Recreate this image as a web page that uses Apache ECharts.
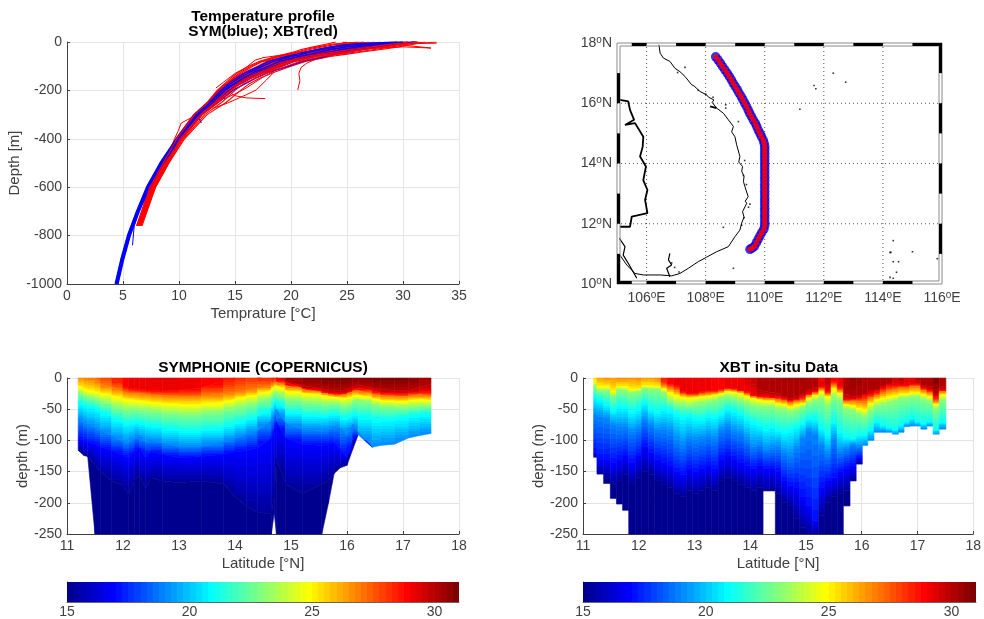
<!DOCTYPE html>
<html><head><meta charset="utf-8">
<style>html,body{margin:0;padding:0;background:#fff}#c{width:984px;height:619px}</style>
<script src="https://cdn.jsdelivr.net/npm/echarts@6/dist/echarts.min.js"></script>
</head><body><div id="c"></div>
<script>
// ---------- Temperature profile panel ----------
const xbtDepths=[0,5,10,20,30,40,50,60,80,100,125,150,175,200,250,300,400,500,600,760];
const xbt01=[24.0,23.5,23.0,22.0,21.0,20.3,19.5,18.6,17.2,16.2,15.3,14.6,14.0,13.4,12.5,11.3,9.7,8.5,7.4,6.2];
const xbt02=[26.0,25.0,24.0,22.8,21.8,20.8,20.0,19.0,17.5,16.6,15.7,14.9,14.2,13.6,12.6,11.4,9.8,8.6,7.4,6.3];
const xbt03=[27.0,26.0,25.0,23.5,22.5,21.3,20.4,19.3,17.8,17.0,15.9,15.0,14.3,13.7,12.6,11.5,9.8,8.6,7.5,6.3];
const xbt04=[28.0,27.2,26.0,24.2,23.0,21.7,20.8,19.7,18.2,17.3,16.1,15.2,14.4,13.8,12.7,11.5,9.9,8.7,7.5,6.3];
const xbt05=[28.5,27.8,26.6,24.8,23.5,22.2,21.1,20.0,18.5,17.6,16.4,15.4,14.6,13.9,12.8,11.6,9.9,8.7,7.5,6.4];
const xbt06=[29.0,28.4,27.2,25.4,24.0,22.6,21.5,20.3,18.8,17.9,16.6,15.6,14.7,14.0,12.9,11.6,10.0,8.8,7.6,6.4];
const xbt07=[29.5,28.9,27.8,26.0,24.5,23.0,21.8,20.6,19.0,18.1,16.8,15.7,14.9,14.1,13.0,11.7,10.0,8.8,7.6,6.4];
const xbt08=[30.0,29.3,28.2,26.5,25.0,23.5,22.2,21.0,19.3,18.3,17.0,15.9,15.0,14.2,13.1,11.8,10.1,8.9,7.7,6.5];
const xbt09=[30.5,29.8,28.8,27.2,25.6,24.0,22.6,21.3,19.6,18.6,17.2,16.0,15.1,14.3,13.2,11.9,10.1,8.9,7.7,6.5];
const xbt10=[31.0,30.3,29.3,27.8,26.2,24.6,23.1,21.7,19.9,18.9,17.4,16.2,15.2,14.5,13.3,12.0,10.2,9.0,7.8,6.5];
const xbt11=[31.5,30.7,29.8,28.5,26.8,25.2,23.6,22.2,20.3,19.2,17.7,16.4,15.4,14.7,13.5,12.1,10.3,9.0,7.8,6.6];
const xbt12=[32.0,31.0,30.3,29.0,27.6,26.0,24.4,22.8,20.8,19.6,18.0,16.8,15.7,15.0,13.8,12.3,10.4,9.1,7.9,6.6];
const xbt13=[33.0,31.5,30.8,29.6,28.2,26.5,25.0,23.5,21.3,20.0,18.5,17.2,16.2,15.5,14.2,12.5,10.5,9.1,7.9,6.7];
const xbt14=[25,24.5,23.5,22.4,21.4,20.6,19.8,18.8,17.4,16.4,15.5,14.8,14.1,13.5,12.6,11.4,9.8,8.6,7.4,6.25];
const xbt15=[27.5,26.6,25.5,23.9,22.8,21.5,20.6,19.5,18,17.15,16,15.1,14.35,13.75,12.65,11.5,9.85,8.65,7.5,6.3];
const xbt16=[28.8,28.1,26.9,25.1,23.8,22.4,21.3,20.15,18.65,17.75,16.5,15.5,14.65,13.95,12.85,11.6,9.95,8.75,7.55,6.4];
const xbt17=[29.8,29.1,28,26.3,24.8,23.3,22,20.8,19.15,18.2,16.9,15.8,14.95,14.15,13.05,11.75,10.05,8.85,7.65,6.45];
const xbt18=[30.8,30,29,27.5,25.9,24.3,22.8,21.5,19.75,18.75,17.3,16.1,15.15,14.4,13.25,11.95,10.15,8.95,7.75,6.5];
const xbt19=[31.2,30.5,29.5,28.2,26.5,24.9,23.4,22,20.1,19,17.55,16.3,15.3,14.6,13.4,12.05,10.25,9,7.8,6.55];
const xbt20=[30.2,29.5,28.5,26.8,25.3,23.8,22.4,21.1,19.45,18.45,17.1,15.95,15.05,14.25,13.15,11.85,10.1,8.9,7.7,6.5];
const xbtOut1=[[27,20],[24,50],[22,75],[21.4,88],[20.9,105],[20.7,130],[20.8,160],[20.6,198]];
const xbtOut2=[[19,95],[17,125],[15.5,160],[14.2,190],[14.9,221],[16,231],[17.7,234]];
const xbtOut3=[[18.4,129],[17.8,157],[16.9,198],[16,218],[14.3,253],[13,275]];
const xbtOut4=[[12.5,270],[11.6,300],[10.2,335],[9.9,370],[9.6,400],[9.0,470]];
const xbtOut5=[[26,20],[22,35],[19,55],[17.5,65],[16.8,75],[16,105],[15,130],[14,165],[13.3,190]];
const xbtOut6=[[18.5,120],[17.5,145],[16,190],[15,215],[14,235]];
const xbtOut7=[[33,5],[31,6],[29,8],[32.5,25],[30,20],[27.5,25]];
const xbtOut8=[[24.6,0],[25,3],[26.5,0],[26,5],[24,12]];
const symDepths=[0,10,20,30,50,60,80,100,125,150,200,250,300,400,500,600,700,800,900,1000];
const sym1=[31.2,29,27,25.6,23.2,22.2,20.3,19.2,17.6,16.4,14.4,13.2,11.8,10.0,8.5,7.3,6.4,5.6,5.0,4.5];
const sym2=[31,28,26,24.6,22.5,21.4,19.6,18.5,17.1,16,14.1,13,11.7,9.9,8.45,7.25,6.35,5.55,4.95,4.45];
const sym3=[30.5,27,25,23.6,21.8,20.7,19,18,16.7,15.7,13.9,12.8,11.6,9.85,8.4,7.2,6.3,5.5,4.9,4.4];
const sym4=[30,26,24,22.8,21,20,18.4,17.5,16.3,15.3,13.7,12.7,11.5,9.8,8.35,7.15,6.25,5.45,4.85,4.35];
const sym5=[29.5,25,23.5,22.4,20.5,19.6,18,17.2,16,15,13.6,12.6,11.4,9.75,8.3,7.1,6.2,5.4,4.8,4.3];
const sym6=[31.3,29.5,28,26.5,24,23,21,19.8,18,16.8,14.8,13.5,12,10.1,8.6,7.4,6.45,5.65,5.05,4.55];
const symSpur1=[[6.4,700],[6.0,760],[5.85,840]];
const symSpur2=[[13,250],[11.6,300],[12,335]];

// ---------- Map panel ----------
const coast=[[106.42,17.94],[106.46,17.66],[106.57,17.50],[106.79,17.39],[106.96,17.16],[107.13,17.05],[107.30,16.89],[107.53,16.61],[107.60,16.58],[107.81,16.39],[108.03,16.28],[108.10,16.20],[108.28,16.11],[108.22,16.03],[108.37,15.84],[108.60,15.67],[108.77,15.45],[108.94,15.23],[108.88,15.05],[108.99,14.89],[109.05,14.62],[109.16,14.23],[109.12,14.05],[109.25,13.90],[109.22,13.75],[109.30,13.57],[109.28,13.40],[109.33,13.23],[109.44,12.90],[109.34,12.75],[109.39,12.68],[109.25,12.40],[109.30,12.22],[109.22,12.02],[109.16,11.79],[108.99,11.57],[108.77,11.24],[108.37,11.07],[108.03,10.89],[107.75,10.74],[107.41,10.52],[107.13,10.35],[106.85,10.27],[106.79,10.22],[106.46,10.30],[106.12,10.30],[105.89,10.30],[105.61,10.35],[105.33,10.63],[105.10,10.96]];
const delta=[[105.08,11.52],[105.27,11.24],[105.21,10.96],[105.38,10.69],[105.67,10.19]];
const border=[[105.10,16.11],[105.38,16.06],[105.44,15.78],[105.58,15.45],[105.27,15.28],[105.61,15.34],[105.89,14.89],[105.87,14.56],[105.78,14.23],[105.98,13.90],[105.89,13.45],[106.03,13.12],[105.95,12.79],[106.03,12.35],[105.50,12.24],[105.44,11.90],[105.10,11.90]];
const river=[[106.79,11.02],[106.74,10.80],[106.85,10.63],[106.68,10.52],[106.79,10.24]];
const lagoon=[[108.15,15.90],[108.37,15.84]];
const islets=[[107.30,17.19],[111.67,16.59],[111.73,16.48],[112.32,17.0],[112.74,16.70],[111.19,15.80],[108.60,11.88],[108.94,10.52],[114.35,11.44],[114.24,11.05],[114.27,11.05],[114.35,10.74],[114.53,10.74],[115.0,11.07],[115.84,10.84],[114.46,10.39],[114.24,10.22],[114.35,10.19],[108.68,15.84],[109.11,15.39],[108.68,15.95],[107.05,17.02],[107.75,16.43],[108.0,16.3],[108.25,16.2],[109.32,14.1],[109.28,13.6],[109.38,13.3],[109.5,12.65],[109.45,12.55],[109.3,12.2],[109.22,11.95],[106.95,10.55],[106.85,10.7],[107.1,10.4]];
const trackLon=[108.34,108.42,108.50,108.57,108.65,108.73,108.80,108.87,108.93,109.0,109.07,109.13,109.20,109.26,109.32,109.38,109.44,109.49,109.55,109.61,109.68,109.73,109.78,109.84,109.89,109.95,109.98,110,110,110,110,110,110,110,110,110,110,110,110,110,110,110,110,110,110,110,110,110,110,110,110,109.97,109.90,109.84,109.78,109.72,109.65,109.57,109.50];
const trackLat=[17.54,17.44,17.33,17.22,17.11,17.0,16.89,16.78,16.67,16.56,16.45,16.34,16.23,16.12,16.01,15.90,15.78,15.67,15.56,15.45,15.34,15.23,15.11,15.0,14.89,14.78,14.67,14.56,14.45,14.34,14.23,14.12,14.0,13.89,13.77,13.66,13.54,13.43,13.31,13.20,13.08,12.97,12.85,12.74,12.63,12.51,12.40,12.28,12.17,12.05,11.94,11.82,11.71,11.6,11.49,11.37,11.25,11.19,11.15];
const gridLon=[106,108,110,112,114];
const gridLat=[12,14,16];
const frameTop=[[105.5,106],[107,108],[109,110],[111,112],[113,114],[115,116]];
const frameBottom=[[105,105.5],[106,107],[108,109],[110,111],[112,113],[114,115]];
const frameLeft=[[16,17],[14,15],[12,13],[10,11]];
const frameRight=[[17,18],[15,16],[13,14],[11,12]];
const lonLabels=[106,108,110,112,114,116];

// ---------- SYMPHONIE section: depth (m) of each isotherm at each station ----------
const symLat=[11.2,11.3,11.37,11.5,11.6,11.8,12.0,12.1,12.2,12.3,12.4,12.5,12.7,13.0,13.4,13.8,14.0,14.2,14.4,14.65,14.7,14.74,14.9,15.2,15.55,15.67,15.77,15.88,16.0,16.1,16.2,16.45,16.6,16.85,17.1,17.3,17.5];
const symBottom=[116,124,126,250,250,250,250,250,250,250,250,250,250,250,250,250,250,250,250,250,216,250,250,250,250,200,153,144,140,115,91,111,108,106,96,92,89];
const symSurface=[26.3,27,27,27,27.8,28,28.8,29,29.2,29.2,29.2,29.3,29.3,29.3,29.1,28.7,28.5,28.2,28,28.7,28.5,28.7,30.2,30.6,31,31,31,31,31,31,30.6,31,31,31,31,30.5,30.2];
const symT30=[0,0,0,0,0,0,0,0,0,0,0,0,0,0,0,0,0,0,0,0,0,0,5,12,17,19,20,21,18,14,11,16,18,20,20,15,10];
const symT29=[0,0,0,0,0,0,12,16,17,18,19,20,21,20,16,5,0,0,0,2,0,0,7,16,22,24,25,26,24,20,16,20,24,25,25,22,22];
const symT27=[0,0,0,0,10,14,22,24,25,25,26,27,28,30,29,25,23,20,17,12,8,7,12,18,24,26,28,28,26,22,20,26,28,30,30,26,30];
const symT25=[12,18,20,22,24,28,33,35,36,37,38,39,40,42,43,38,34,30,27,19,14,12,20,24,28,30,31,32,33,30,27,33,36,38,37,34,37];
const symT23=[22,28,30,33,36,43,50,51,50,50,52,52,55,58,58,52,48,44,40,30,26,22,33,37,42,42,40,42,46,40,34,42,45,47,47,44,46];
const symT21=[38,44,45,48,52,62,72,74,70,70,76,75,79,84,85,78,74,68,62,48,42,34,52,58,62,60,57,60,68,56,60,66,66,66,62,58,58];
const symT19=[64,72,74,80,84,92,102,104,97,92,103,99,104,110,110,102,97,90,85,68,62,50,72,82,84,82,78,80,92,74,86,112,115,115,110,100,96];
const symT17=[96,100,102,106,110,116,124,128,118,112,128,118,122,128,126,122,118,116,112,96,86,70,96,106,108,106,104,114,128,100,112,135,135,135,130,125,120];
const symT15=[130,130,135,140,150,165,172,188,165,155,178,160,165,168,165,170,190,205,215,218,190,130,170,185,170,165,160,170,180,150,170,200,200,200,190,180,175];

// ---------- XBT section: one column per cast, left edges then depth (m) of each isotherm ----------
const xbtEdges=[11.19,11.25,11.37,11.49,11.60,11.71,11.82,11.94,12.05,12.17,12.28,12.40,12.51,12.63,12.74,12.85,12.97,13.08,13.20,13.31,13.43,13.54,13.66,13.77,13.89,14.00,14.12,14.23,14.34,14.45,14.56,14.67,14.78,14.89,15.00,15.11,15.23,15.34,15.45,15.56,15.67,15.79,15.90,16.01,16.11,16.22,16.33,16.44,16.55,16.66,16.76,16.86,16.96,17.06,17.17,17.28,17.39,17.51];
const xbtBottom=[127,154,169,193,202,212,250,250,250,250,250,250,250,250,250,250,250,250,250,250,250,250,250,250,250,250,250,181,181,250,250,250,250,250,250,250,250,250,250,250,205,165,138,108,100,87,87,87,90,87,78,77,77,82,77,90,82];
const xbtSurface=[25.5,26.3,26.6,26.5,26.8,26.8,26.6,26.8,26.5,26.5,26.8,28.3,28.8,29,29,29.2,29,29,29,28.8,28.8,29,29,29.2,29.5,29.6,30,30,30.2,30.2,30.3,30.3,30.3,30.3,30,30,29,29.8,28.8,29,30,30.6,30.4,30.3,30.2,30.2,30,30,29.6,29.8,29.4,29.4,29.8,30,30,31,30];
const xbtT30=[0,0,0,0,0,0,0,0,0,0,0,0,0,0,0,0,0,0,0,0,0,0,0,0,0,10,20,21,23,25,29,33,30,26,18,15,3,8,0,0,26,30,28,24,20,18,12,8,3,6,3,3,6,12,14,24,14];
const xbtT29=[0,0,0,0,0,0,0,0,0,0,0,6,10,12,22,24,24,22,20,20,18,16,17,20,22,28,30,30,32,31,33,36,35,30,26,22,14,22,6,14,34,34,32,28,26,22,16,12,12,12,12,10,10,16,20,30,20];
const xbtT27=[0,0,0,0,0,0,0,0,0,0,0,12,16,20,26,28,28,26,25,24,22,19,20,22,26,30,32,33,33,35,37,40,37,36,28,24,18,26,12,20,38,37,38,38,32,28,24,20,18,16,16,14,14,20,24,38,22];
const xbtT25=[4,14,14,22,14,14,18,18,13,13,14,18,24,28,31,32,31,30,29,27,25,22,23,25,29,33,35,37,37,41,43,46,43,41,33,28,22,30,17,25,43,45,49,51,41,35,33,30,28,26,26,24,24,27,30,42,27];
const xbtT23=[14,20,20,28,19,20,24,22,17,18,18,24,36,42,42,44,42,40,38,36,32,30,32,36,40,44,46,46,46,50,50,54,52,47,40,36,33,44,30,35,50,52,58,62,52,45,42,40,37,32,32,30,30,34,38,50,36];
const xbtT21=[30,35,42,51,46,46,54,49,40,49,54,49,51,57,62,60,65,65,60,62,57,49,52,57,65,70,75,80,78,83,86,83,78,73,65,65,80,89,70,86,94,97,91,91,83,70,75,80,83,75,70,65,70,73,70,83,70];
const xbtT19=[59,62,65,75,78,78,86,81,67,75,83,83,86,99,107,97,99,97,94,97,83,78,86,89,99,110,107,115,112,110,120,124,113,97,86,91,107,121,99,118,113,107,110,111,108,100,92,90,95,90,90,90,90,90,90,95,90];
const xbtT17=[120,130,130,135,130,125,135,125,110,120,130,135,140,150,155,145,150,145,140,145,130,125,130,135,140,145,140,145,145,150,165,172,175,190,205,228,175,165,160,150,145,140,128,118,115,110,110,110,110,110,110,110,110,110,110,115,110];
const xbtT15=[140,155,160,170,165,155,170,160,150,155,165,170,175,185,190,180,185,180,175,180,165,160,165,170,175,180,175,180,180,185,200,205,225,240,260,270,220,200,190,185,180,170,150,135,130,130,130,130,130,130,130,130,130,130,130,130,130];

const isoLevels=[30,29,27,25,23,21,19,17,15.3];
const symIso=[symT30,symT29,symT27,symT25,symT23,symT21,symT19,symT17,symT15];
const xbtIso=[xbtT30,xbtT29,xbtT27,xbtT25,xbtT23,xbtT21,xbtT19,xbtT17,xbtT15];

// ---------- helpers ----------
const FONT='"Liberation Sans",Arial,sans-serif', INK='#404040', GRID='#e4e4e4';
function clamp01(v){return Math.max(0,Math.min(1,v));}
function jet(T){const t=clamp01((T-15)/16);
  const f=c=>Math.round(255*clamp01(1.5-Math.abs(4*t-c)));
  return 'rgb('+f(3)+','+f(2)+','+f(1)+')';}
const STEP=0.25;
function binColor(i){return jet(15+(i+1)*STEP);} // MATLAB jet(64): level i is (i+1)/64
// hard-edged colour stops so each band shows the 64 discrete colormap levels
function bandStops(T0,T1){
  const stops=[];
  if(Math.abs(T0-T1)<1e-6){const c=binColor(Math.max(0,Math.min(63,Math.floor((T0-15)/STEP))));return [{offset:0,color:c},{offset:1,color:c}];}
  const iTop=Math.min(63,Math.floor((T0-15)/STEP-1e-9)),iBot=Math.max(0,Math.floor((T1-15)/STEP));
  for(let i=iTop;i>=iBot;i--){
    const hi=Math.min(T0,15+(i+1)*STEP),lo=Math.max(T1,15+i*STEP);
    const col=binColor(i);
    stops.push({offset:clamp01((T0-hi)/(T0-T1)),color:col});
    stops.push({offset:clamp01((T0-lo)/(T0-T1)),color:col});
  }
  return stops;
}
function bandCells(xL,xR,idxL,idxR,iso,bottom,surface,out){
  let pL=0,pR=0,pT=(surface[idxL]+surface[idxR])/2;
  const bL=bottom[idxL],bR=bottom[idxR];
  isoLevels.forEach((lev,k)=>{
    const cL=Math.max(pL,Math.min(iso[k][idxL],bL)),cR=Math.max(pR,Math.min(iso[k][idxR],bR));
    if(cL+cR<=pL+pR)return;
    out.push([xL,xR,pL,pR,cL,cR,pT,Math.min(lev,pT)]);
    pL=cL;pR=cR;pT=Math.min(lev,pT);
  });
  if(pL<bL||pR<bR)out.push([xL,xR,pL,pR,bL,bR,15.1,15.1]);
}
const symCells=[];for(let i=0;i<symLat.length-1;i++)bandCells(symLat[i],symLat[i+1],i,i+1,symIso,symBottom,symSurface,symCells);
const xbtCells=[];for(let i=0;i<xbtEdges.length-1;i++)bandCells(xbtEdges[i],xbtEdges[i+1],i,i,xbtIso,xbtBottom,xbtSurface,xbtCells);
function renderCell(p,api){
  const v=i=>api.value(i);
  const a=api.coord([v(0),-v(2)]),b=api.coord([v(1),-v(3)]),c=api.coord([v(1),-v(5)]),d=api.coord([v(0),-v(4)]);
  const y0=(a[1]+b[1])/2,y1=Math.max((c[1]+d[1])/2,y0+0.01);
  const g=new echarts.graphic.LinearGradient(0,y0,0,y1,bandStops(v(6),v(7)),true);
  return {type:'polygon',shape:{points:[a,b,c,d]},style:{fill:g,stroke:g,lineWidth:0.6}};
}
function sectionSeries(cells,ax){return {type:'custom',xAxisIndex:ax,yAxisIndex:ax,data:cells,renderItem:renderCell,silent:true,z:3};}
function profile(depths,vals,color,w){return {type:'line',xAxisIndex:0,yAxisIndex:0,data:vals.map((T,i)=>[T,-depths[i]]),showSymbol:false,silent:true,lineStyle:{color,width:w},z:3};}
function pairs(arr,color,w){return {type:'line',xAxisIndex:0,yAxisIndex:0,data:arr.map(p=>[p[0],-p[1]]),showSymbol:false,silent:true,lineStyle:{color,width:w},z:3};}
function mapLine(d,w){return {type:'line',xAxisIndex:1,yAxisIndex:1,data:d,showSymbol:false,silent:true,lineStyle:{color:'#000',width:w},z:3};}
const R='#f00',B='#00f';
function xl(a){return profile(xbtDepths,a,R,1.1);}
function sl(a){return profile(symDepths,a,B,1.4);}

const cbarSteps=[];for(let i=0;i<64;i++)cbarSteps.push([15+i*0.25,15+(i+1)*0.25,i]);
function cbarSeries(ax){return {type:'custom',xAxisIndex:ax,yAxisIndex:ax,data:cbarSteps,silent:true,z:3,renderItem(p,api){
  const a=api.coord([api.value(0),1]),b=api.coord([api.value(1),0]);
  const col=binColor(api.value(2));
  const x0=Math.round(a[0]),x1=Math.round(b[0]);
  return {type:'rect',shape:{x:x0,y:a[1],width:x1-x0,height:b[1]-a[1]},style:{fill:col}};
}};}

// map frame + dotted graticule
const frameData=[];
frameTop.forEach(s=>frameData.push([0,s[0],s[1]]));
frameBottom.forEach(s=>frameData.push([1,s[0],s[1]]));
frameLeft.forEach(s=>frameData.push([2,s[0],s[1]]));
frameRight.forEach(s=>frameData.push([3,s[0],s[1]]));
const frameSeries={type:'custom',xAxisIndex:1,yAxisIndex:1,data:frameData,silent:true,z:6,renderItem(p,api){
  const s=api.value(0),a=api.value(1),b=api.value(2),T=3;let r;
  if(s<2){const y=s===0?18:10,p1=api.coord([a,y]),p2=api.coord([b,y]);
    r={x:p1[0],y:s===0?p1[1]:p1[1]-T,width:p2[0]-p1[0],height:T};}
  else{const x=s===2?105:116,p1=api.coord([x,b]),p2=api.coord([x,a]);
    r={x:s===2?p1[0]:p1[0]-T,y:p1[1],width:T,height:p2[1]-p1[1]};}
  return {type:'rect',shape:r,style:{fill:'#000'}};
}};
const outlineSeries={type:'custom',xAxisIndex:1,yAxisIndex:1,data:[[0],[3]],silent:true,z:5,renderItem(p,api){
  const o=api.value(0),a=api.coord([105,18]),b=api.coord([116,10]);
  return {type:'rect',shape:{x:a[0]+o,y:a[1]+o,width:b[0]-a[0]-2*o,height:b[1]-a[1]-2*o},style:{fill:'none',stroke:'#8a8a8a',lineWidth:1}};
}};
const graticuleData=gridLon.map(v=>[0,v]).concat(gridLat.map(v=>[1,v]));
const graticule={type:'custom',xAxisIndex:1,yAxisIndex:1,data:graticuleData,silent:true,z:2,renderItem(p,api){
  const v=api.value(1);
  const a=api.coord(api.value(0)===0?[v,10]:[105,v]),b=api.coord(api.value(0)===0?[v,18]:[116,v]);
  return {type:'line',shape:{x1:a[0],y1:a[1],x2:b[0],y2:b[1]},style:{stroke:'#555',lineWidth:1,lineDash:[1,3]}};
}};

const supRich={a:{fontFamily:FONT,fontSize:14,color:INK},b:{fontFamily:FONT,fontSize:10,color:INK,verticalAlign:'top',padding:[0,0,6,0]}};
const NAMESIZE=15, TICKSIZE=14;
function baseX(i,min,max,interval,name){return {gridIndex:i,type:'value',min,max,interval,name,nameLocation:'middle',nameGap:22,
  nameTextStyle:{color:INK,fontFamily:FONT,fontSize:NAMESIZE},
  axisLine:{show:true,onZero:false,lineStyle:{color:INK,width:1}},axisTick:{show:true,inside:true,length:3,lineStyle:{color:INK}},
  axisLabel:{color:INK,fontFamily:FONT,fontSize:TICKSIZE,margin:5,formatter:v=>String(v)},splitLine:{show:true,lineStyle:{color:GRID,width:1}}};}
function baseY(i,min,max,interval,name,gap){return {gridIndex:i,type:'value',min,max,interval,name,nameLocation:'middle',nameGap:gap,
  nameTextStyle:{color:INK,fontFamily:FONT,fontSize:NAMESIZE},
  axisLine:{show:true,onZero:false,lineStyle:{color:INK,width:1}},axisTick:{show:true,inside:true,length:3,lineStyle:{color:INK}},
  axisLabel:{color:INK,fontFamily:FONT,fontSize:TICKSIZE,margin:5,formatter:v=>String(v)},splitLine:{show:true,lineStyle:{color:GRID,width:1}}};}
function cbarX(i){const a=baseX(i,15,31,5,'');a.axisLabel.showMaxLabel=false;a.axisLabel.margin=3;a.splitLine={show:false};a.axisLine.lineStyle.color='#666';return a;}
function cbarY(i){return {gridIndex:i,type:'value',min:0,max:1,show:true,axisLabel:{show:false},axisTick:{show:false},splitLine:{show:false},axisLine:{show:true,lineStyle:{color:'#666'}}};}
const titleStyle={color:'#000',fontFamily:FONT,fontSize:15.4,fontWeight:'bold',lineHeight:15};

const option={
  animation:false,backgroundColor:'#fff',
  title:[
    {text:'Temperature profile\nSYM(blue); XBT(red)',left:263,top:9,padding:0,textAlign:'center',textStyle:titleStyle},
    {text:'SYMPHONIE (COPERNICUS)',left:263,top:360,padding:0,textAlign:'center',textStyle:titleStyle},
    {text:'XBT in-situ Data',left:779,top:360,padding:0,textAlign:'center',textStyle:titleStyle}
  ],
  grid:[
    {left:67,top:42,width:392,height:242},
    {left:617,top:43,width:325,height:241},
    {left:67,top:378,width:392,height:156},
    {left:583,top:378,width:393,height:156},
    {left:67,top:582,width:392,height:20},
    {left:583,top:582,width:393,height:20}
  ],
  xAxis:[
    baseX(0,0,35,5,'Temprature [°C]'),
    {gridIndex:1,type:'value',min:105,max:116,interval:1,axisLine:{show:false},axisTick:{show:false},splitLine:{show:false},
      axisLabel:{customValues:lonLabels,rich:supRich,margin:6,formatter:v=>'{a|'+v+'}{b|o}{a|E}'}},
    baseX(2,11,18,1,'Latitude [°N]'),
    baseX(3,11,18,1,'Latitude [°N]'),
    cbarX(4),cbarX(5)
  ],
  yAxis:[
    baseY(0,-1000,0,200,'Depth [m]',43),
    {gridIndex:1,type:'value',min:10,max:18,interval:2,axisLine:{show:false},axisTick:{show:false},splitLine:{show:false},
      axisLabel:{rich:supRich,margin:5,formatter:v=>'{a|'+v+'}{b|o}{a|N}'}},
    baseY(2,-250,0,50,'depth (m)',35),
    baseY(3,-250,0,50,'depth (m)',35),
    cbarY(4),cbarY(5)
  ],
  series:[
    xl(xbt01),xl(xbt04),xl(xbt07),xl(xbt10),xl(xbt13),xl(xbt14),xl(xbt16),xl(xbt18),
    xl(xbt05),xl(xbt08),xl(xbt15),xl(xbt20),xl(xbt03),xl(xbt06),xl(xbt17),
    pairs(xbtOut1,R,1),pairs(xbtOut2,R,1),pairs(xbtOut3,R,1),pairs(xbtOut4,R,1),
    pairs(xbtOut5,R,1),pairs(xbtOut6,R,1),pairs(xbtOut7,R,1),pairs(xbtOut8,R,1),
    sl(sym3),sl(sym5),sl(sym1),sl(sym2),sl(sym4),sl(sym6),
    pairs(symSpur1,B,1),pairs(symSpur2,B,1),
    xl(xbt02),xl(xbt11),xl(xbt19),xl(xbt09),xl(xbt12),
    graticule,mapLine(coast,1),mapLine(delta,1.2),mapLine(border,1.8),mapLine(river,1.2),mapLine(lagoon,1.8),
    {type:'scatter',xAxisIndex:1,yAxisIndex:1,data:islets,symbol:'rect',symbolSize:1.6,itemStyle:{color:'#000'},silent:true,z:3},
    {type:'scatter',xAxisIndex:1,yAxisIndex:1,data:trackLon.map((v,i)=>[v,trackLat[i]]),symbolSize:9.5,itemStyle:{color:'#0000ff'},silent:true,z:4},
    {type:'scatter',xAxisIndex:1,yAxisIndex:1,data:trackLon.map((v,i)=>[v,trackLat[i]]),symbolSize:5.5,itemStyle:{color:'#f00',borderWidth:0},silent:true,z:4.5},
    outlineSeries,frameSeries,
    sectionSeries(symCells,2),sectionSeries(xbtCells,3),
    cbarSeries(4),cbarSeries(5)
  ]
};
const chart=echarts.init(document.getElementById('c'),null,{renderer:'canvas'});
chart.setOption(option);
</script></body></html>
